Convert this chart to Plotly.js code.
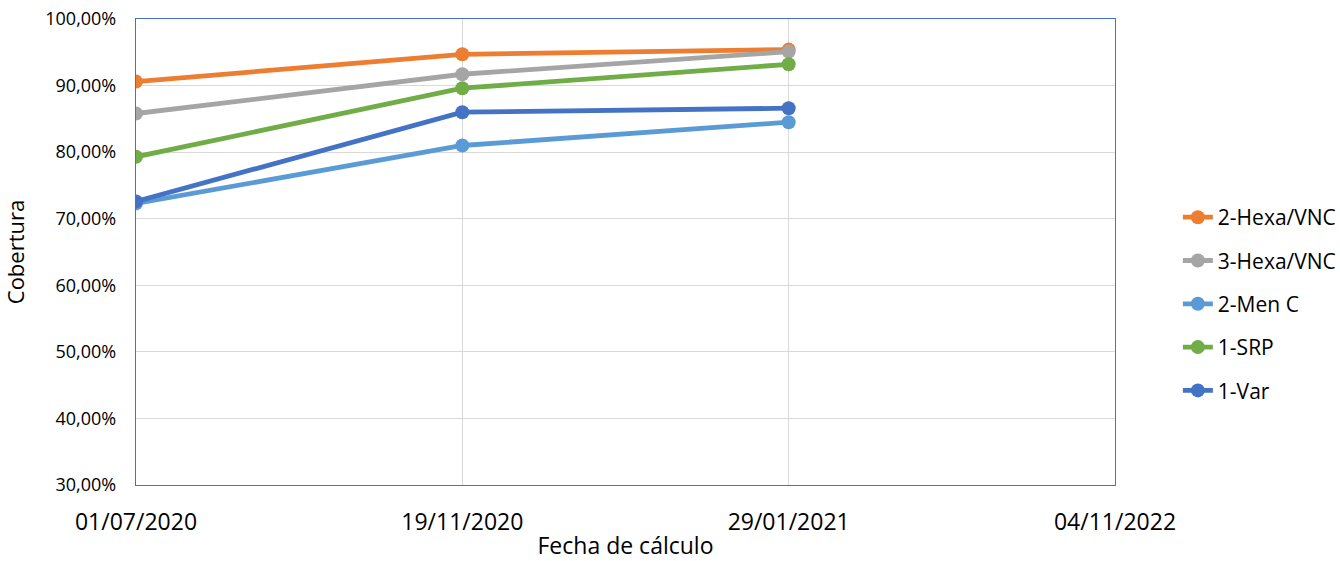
<!DOCTYPE html>
<html>
<head>
<meta charset="utf-8">
<script src="https://cdn.plot.ly/plotly-3.0.1.min.js"></script>
<style>
html,body{margin:0;padding:0;background:#fff;}
#chart{width:1340px;height:561px;}
</style>
</head>
<body>
<div id="chart"></div>
<script>
const fechas = ["01/07/2020", "19/11/2020", "29/01/2021", "04/11/2022"];
const hexa2 = [0.906, 0.947, 0.954, null];
const hexa3 = [0.858, 0.917, 0.951, null];
const menC2 = [0.723, 0.810, 0.845, null];
const srp1  = [0.793, 0.896, 0.932, null];
const var1  = [0.726, 0.860, 0.866, null];

const seriesNames = ["2-Hexa/VNC", "3-Hexa/VNC", "2-Men C", "1-SRP", "1-Var"];
const seriesValues = [hexa2, hexa3, menC2, srp1, var1];
const seriesColors = ["#ED7D31", "#A5A5A5", "#5B9BD5", "#70AD47", "#4472C4"];

const FONT = "'Open Sans', Lato, sans-serif";

const traces = seriesNames.map((n, i) => ({
  type: "scatter",
  mode: "lines+markers",
  name: n,
  legendgroup: "g" + i,
  x: fechas,
  y: seriesValues[i],
  line: {color: seriesColors[i], width: 4.8},
  marker: {color: seriesColors[i], size: 14},
  connectgaps: false,
  hoverinfo: "x+y+name"
}));

const layout = {
  width: 1340,
  height: 561,
  paper_bgcolor: "#fff",
  plot_bgcolor: "#fff",
  separators: ",.",
  margin: {l: 136, r: 225, t: 19, b: 76},
  font: {family: FONT, color: "#000"},
  showlegend: true,
  legend: {
    xref: "container", yref: "container",
    x: 0.879, xanchor: "left",
    y: 0.458, yanchor: "middle",
    font: {family: FONT, size: 21, color: "#000"},
    tracegroupgap: 13,
    bgcolor: "rgba(0,0,0,0)"
  },
  xaxis: {
    type: "category",
    categoryorder: "array",
    categoryarray: fechas,
    range: [0, 3],
    automargin: false,
    showgrid: true,
    gridcolor: "#D9D9D9",
    gridwidth: 1.3,
    showline: true,
    mirror: true,
    linecolor: "#4472C4",
    linewidth: 1.3,
    zeroline: false,
    ticks: "outside",
    ticklen: 16,
    tickcolor: "rgba(0,0,0,0)",
    tickfont: {family: FONT, size: 23, color: "#000"},
    title: {text: "Fecha de cálculo", font: {family: FONT, size: 23, color: "#000"}, standoff: 7}
  },
  yaxis: {
    range: [0.3, 1.0],
    dtick: 0.1,
    tickformat: ".2%",
    automargin: false,
    showgrid: true,
    gridcolor: "#D9D9D9",
    gridwidth: 1.3,
    showline: true,
    mirror: true,
    linecolor: "#4472C4",
    linewidth: 1.3,
    zeroline: false,
    ticks: "outside",
    ticklen: 15,
    tickcolor: "rgba(0,0,0,0)",
    tickfont: {family: FONT, size: 18, color: "#000"},
    title: {text: "Cobertura", font: {family: FONT, size: 22, color: "#000"}, standoff: 14}
  }
};

Plotly.newPlot("chart", traces, layout, {displayModeBar: false});
</script>
</body>
</html>
